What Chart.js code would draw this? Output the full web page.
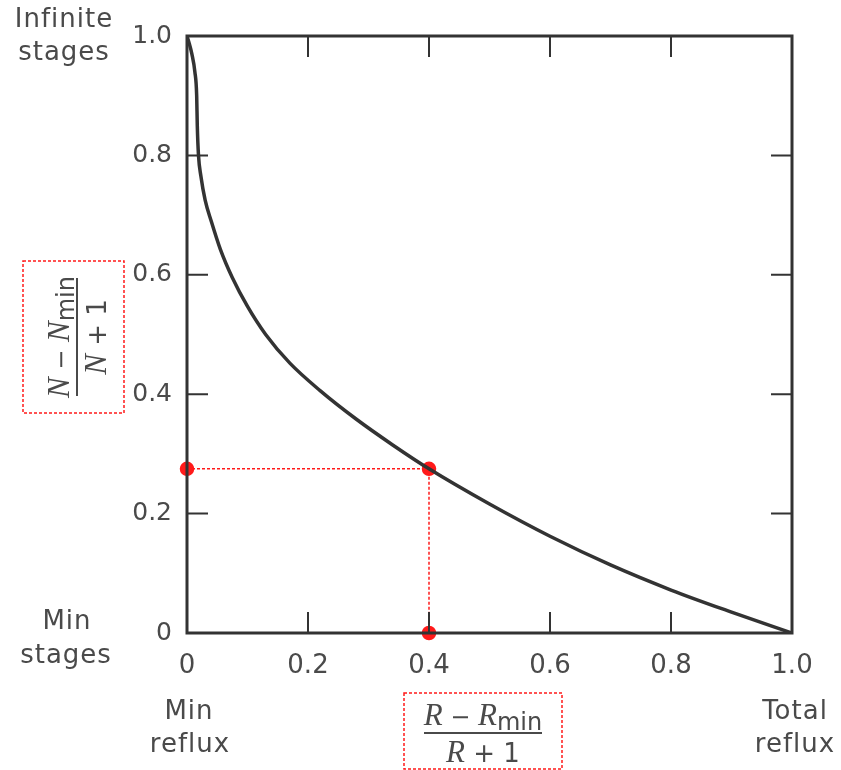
<!DOCTYPE html>
<html>
<head>
<meta charset="utf-8">
<script src="https://cdn.jsdelivr.net/npm/chart.js@4.4.1/dist/chart.umd.min.js"></script>
<style>
    html, body { margin: 0; padding: 0; background: #fff; }
    #wrap { width: 841px; height: 770px; }
</style>
</head>
<body>
<div id="wrap"><canvas id="chart" width="841" height="770"></canvas></div>
<script>
// Correlación de Gilliland: (N - Nmin)/(N + 1) frente a (R - Rmin)/(R + 1),
// con el punto de lectura en 0.4 marcado en rojo.
const curveX = [0, 0.003, 0.008, 0.013, 0.016, 0.017, 0.019, 0.023, 0.030, 0.040, 0.055,
    0.075, 0.10, 0.13, 0.17, 0.22, 0.28, 0.34, 0.40, 0.50, 0.60, 0.70, 0.80, 0.90, 1.0];
const curveY = [1.0, 0.99, 0.97, 0.94, 0.90, 0.85, 0.80, 0.765, 0.725, 0.690, 0.643,
    0.595, 0.547, 0.500, 0.452, 0.406, 0.358, 0.315, 0.275, 0.216, 0.162, 0.114, 0.072, 0.035, 0.0];
const guideX = [0, 0.4, 0.4];
const guideY = [0.275, 0.275, 0];
const tickValues = [0, 0.2, 0.4, 0.6, 0.8, 1.0];
const tickLabels = ["0", "0.2", "0.4", "0.6", "0.8", "1.0"];

(() => {
    const canvas = document.getElementById("chart");
    const INK = "#333333";
    const TEXT = "#4a4a4a";
    const RED = "#ff1a1a";
    const SANS = "'DejaVu Sans', Verdana, sans-serif";
    const SERIF = "'Liberation Serif', 'Times New Roman', serif";

    const fmtTick = (v) => {
        const i = tickValues.findIndex((t) => Math.abs(t - v) < 1e-6);
        return i >= 0 ? tickLabels[i] : "";
    };

    // Dibuja una lista de trozos [texto, fuente, dy] centrada en (0, y).
    function drawRuns(ctx, runs, y) {
        let total = 0;
        runs.forEach((r) => { ctx.font = r[1]; total += ctx.measureText(r[0]).width; });
        let x = -total / 2;
        runs.forEach((r) => {
            ctx.font = r[1];
            ctx.fillText(r[0], x, y + (r[2] || 0));
            x += ctx.measureText(r[0]).width;
        });
    }

    function drawFraction(ctx, cx, cy, rot, letter) {
        ctx.save();
        ctx.translate(cx, cy);
        ctx.rotate(rot);
        ctx.fillStyle = TEXT;
        ctx.strokeStyle = TEXT;
        ctx.textAlign = "left";
        ctx.textBaseline = "alphabetic";
        const it = `italic 31px ${SERIF}`;
        const sn = `24px ${SANS}`;
        const sub = `24px ${SANS}`;
        drawRuns(ctx, [[letter, it], [" \u2212 ", sn], [letter, it], ["min", sub, 5]], -8);
        drawRuns(ctx, [[letter, it], [" + 1", `26px ${SANS}`]], 29);
        ctx.lineWidth = 2;
        ctx.beginPath();
        ctx.moveTo(-59, 0);
        ctx.lineTo(59, 0);
        ctx.stroke();
        ctx.restore();
    }

    // Marco, ticks interiores, textos y recuadros rojos.
    const decor = {
        id: "decor",
        afterDatasetsDraw(chart) {
            const { ctx, chartArea: a, scales } = chart;
            const L = 21;
            ctx.save();
            ctx.strokeStyle = INK;
            ctx.lineWidth = 3;
            ctx.strokeRect(a.left, a.top, a.right - a.left, a.bottom - a.top);
            ctx.lineWidth = 2;
            ctx.beginPath();
            tickValues.slice(1, -1).forEach((v) => {
                const px = scales.x.getPixelForValue(v);
                const py = scales.y.getPixelForValue(v);
                ctx.moveTo(px, a.bottom); ctx.lineTo(px, a.bottom - L);
                ctx.moveTo(px, a.top); ctx.lineTo(px, a.top + L);
                ctx.moveTo(a.left, py); ctx.lineTo(a.left + L, py);
                ctx.moveTo(a.right, py); ctx.lineTo(a.right - L, py);
            });
            ctx.stroke();

            ctx.fillStyle = TEXT;
            ctx.font = `26px ${SANS}`;
            ctx.letterSpacing = "1px";
            ctx.textAlign = "center";
            ctx.textBaseline = "middle";
            ctx.fillText("Infinite", 64, 20);
            ctx.fillText("stages", 64, 53);
            ctx.fillText("Min", 67, 622);
            ctx.fillText("stages", 66, 656);
            ctx.fillText("Min", 189, 712);
            ctx.fillText("reflux", 190, 745);
            ctx.fillText("Total", 795, 712);
            ctx.fillText("reflux", 795, 745);
            ctx.letterSpacing = "0px";

            ctx.strokeStyle = RED;
            ctx.lineWidth = 1.5;
            ctx.setLineDash([3, 2]);
            ctx.strokeRect(23, 261, 101, 152);
            ctx.strokeRect(404, 693, 158, 76);
            ctx.setLineDash([]);
            ctx.restore();

            drawFraction(ctx, 483, 733, 0, "R");
            drawFraction(ctx, 77, 337, -Math.PI / 2, "N");
        },
    };

    new Chart(canvas, {
        type: "scatter",
        data: {
            datasets: [
                {
                    data: curveX.map((x, i) => ({ x, y: curveY[i] })),
                    showLine: true,
                    borderColor: INK,
                    borderWidth: 3.5,
                    pointRadius: 0,
                    cubicInterpolationMode: "monotone",
                },
                {
                    data: guideX.map((x, i) => ({ x, y: guideY[i] })),
                    showLine: true,
                    borderColor: RED,
                    borderWidth: 1.5,
                    borderDash: [3, 2],
                    tension: 0,
                    pointRadius: 6.5,
                    pointBackgroundColor: RED,
                    pointBorderColor: RED,
                    clip: false,
                },
            ],
        },
        options: {
            responsive: false,
            animation: false,
            layout: { padding: { top: 36, right: 49, left: 0, bottom: 0 } },
            plugins: { legend: { display: false }, tooltip: { enabled: false } },
            scales: {
                x: {
                    type: "linear",
                    min: 0,
                    max: 1,
                    afterBuildTicks: (s) => { s.ticks = tickValues.map((v) => ({ value: v })); },
                    afterFit: (s) => { s.height = 137; },
                    grid: { display: false, drawTicks: false },
                    border: { display: false },
                    ticks: { color: TEXT, font: { family: SANS, size: 26 }, padding: 18, callback: fmtTick },
                },
                y: {
                    type: "linear",
                    min: 0,
                    max: 1,
                    afterBuildTicks: (s) => { s.ticks = tickValues.map((v) => ({ value: v })); },
                    afterFit: (s) => { s.width = 187; },
                    grid: { display: false, drawTicks: false },
                    border: { display: false },
                    ticks: { color: TEXT, font: { family: SANS, size: 25 }, padding: 15, callback: fmtTick },
                },
            },
        },
        plugins: [decor],
    });
})();
</script>
</body>
</html>
